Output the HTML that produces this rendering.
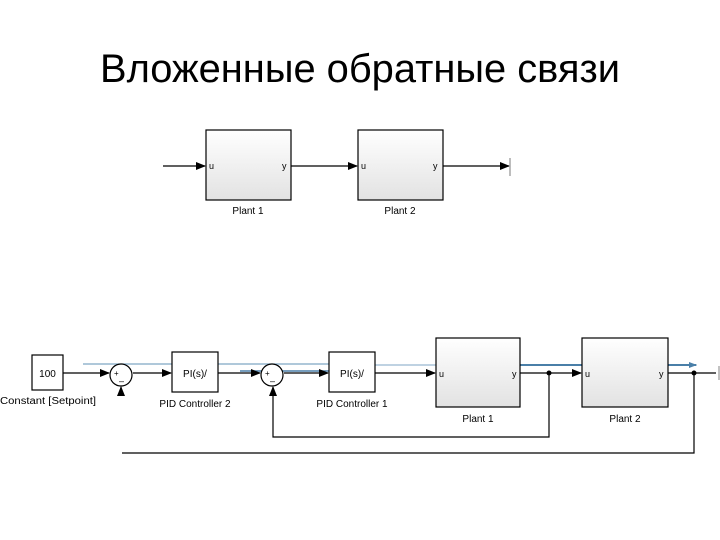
<!DOCTYPE html>
<html><head><meta charset="utf-8"><style>
html,body{margin:0;padding:0;background:#fff;}
svg{display:block;}
</style></head><body>
<svg width="720" height="540" viewBox="0 0 720 540" xmlns="http://www.w3.org/2000/svg" font-family="Liberation Sans, sans-serif">
<defs>
<linearGradient id="g" x1="0" y1="0" x2="0" y2="1">
<stop offset="0" stop-color="#ffffff"/><stop offset="1" stop-color="#e2e2e2"/>
</linearGradient>
<marker id="a" markerWidth="10" markerHeight="8" refX="9" refY="4" orient="auto" markerUnits="userSpaceOnUse">
<path d="M0,0 L10,4 L0,8 Z" fill="#000"/></marker>
<marker id="b" markerWidth="8" markerHeight="6" refX="7" refY="3" orient="auto" markerUnits="userSpaceOnUse">
<path d="M0,0 L8,3 L0,6 Z" fill="#4a7fa8"/></marker>
</defs>
<text x="360" y="82" font-size="40" text-anchor="middle" textLength="520" lengthAdjust="spacingAndGlyphs" fill="#000">Вложенные обратные связи</text>

<!-- top row -->
<g stroke="#000" stroke-width="1.3" fill="none">
<line x1="163" y1="166" x2="205" y2="166" marker-end="url(#a)"/>
<line x1="291" y1="166" x2="357" y2="166" marker-end="url(#a)"/>
<line x1="443" y1="166" x2="509" y2="166" marker-end="url(#a)"/>
<line x1="510" y1="158" x2="510" y2="176" stroke="#999"/>
</g>
<rect x="206" y="130" width="85" height="70" fill="url(#g)" stroke="#000" stroke-width="1.2"/>
<rect x="358" y="130" width="85" height="70" fill="url(#g)" stroke="#000" stroke-width="1.2"/>
<g font-size="9" fill="#000">
<text x="209" y="169">u</text><text x="282" y="169">y</text>
<text x="361" y="169">u</text><text x="433" y="169">y</text>
<text x="248" y="214" text-anchor="middle" font-size="10">Plant 1</text>
<text x="400" y="214" text-anchor="middle" font-size="10">Plant 2</text>
</g>

<!-- bottom row -->
<line x1="83" y1="364" x2="330" y2="364" stroke="#7fa6c4" stroke-width="1.2"/>
<line x1="240" y1="371" x2="330" y2="371" stroke="#4a7fa8" stroke-width="1.5"/>
<line x1="330" y1="365" x2="697" y2="365" stroke="#7fa6c4" stroke-width="1"/>
<line x1="486" y1="365" x2="696" y2="365" stroke="#4a7fa8" stroke-width="2" marker-end="url(#b)"/>

<g stroke="#000" stroke-width="1.2" fill="none">
<line x1="63" y1="373" x2="109" y2="373" marker-end="url(#a)"/>
<line x1="133" y1="373" x2="171" y2="373" marker-end="url(#a)"/>
<line x1="218" y1="373" x2="260" y2="373" marker-end="url(#a)"/>
<line x1="284" y1="373" x2="328" y2="373" marker-end="url(#a)"/>
<line x1="375" y1="373" x2="435" y2="373" marker-end="url(#a)"/>
<line x1="520" y1="373" x2="581" y2="373" marker-end="url(#a)"/>
<line x1="668" y1="373" x2="716" y2="373"/>
<polyline points="549,373 549,437 273,437 273,387" marker-end="url(#a)"/>
<polyline points="694,373 694,453 122,453"/>
<line x1="121" y1="392" x2="121" y2="387" marker-end="url(#a)"/>
<line x1="719" y1="366" x2="719" y2="380" stroke="#999"/>
</g>
<circle cx="549" cy="373" r="2.5" fill="#000"/>
<circle cx="694" cy="373" r="2.5" fill="#000"/>

<rect x="32" y="355" width="31" height="35" fill="#fff" stroke="#000" stroke-width="1.2"/>
<text x="47.5" y="377" font-size="10" text-anchor="middle">100</text>
<text x="48" y="404" font-size="10" text-anchor="middle" textLength="96" lengthAdjust="spacingAndGlyphs">Constant [Setpoint]</text>

<circle cx="121" cy="375" r="11" fill="#fff" stroke="#000" stroke-width="1.2"/>
<text x="114" y="376" font-size="8">+</text><text x="119" y="384" font-size="9">–</text>
<circle cx="272" cy="375" r="11" fill="#fff" stroke="#000" stroke-width="1.2"/>
<text x="265" y="376" font-size="8">+</text><text x="270" y="384" font-size="9">–</text>

<rect x="172" y="352" width="46" height="40" fill="#fff" stroke="#000" stroke-width="1.2"/>
<text x="195" y="377" font-size="10" text-anchor="middle">PI(s)/</text>
<text x="195" y="407" font-size="10" text-anchor="middle">PID Controller 2</text>
<rect x="329" y="352" width="46" height="40" fill="#fff" stroke="#000" stroke-width="1.2"/>
<text x="352" y="377" font-size="10" text-anchor="middle">PI(s)/</text>
<text x="352" y="407" font-size="10" text-anchor="middle">PID Controller 1</text>

<rect x="436" y="338" width="84" height="69" fill="url(#g)" stroke="#000" stroke-width="1.2"/>
<rect x="582" y="338" width="86" height="69" fill="url(#g)" stroke="#000" stroke-width="1.2"/>
<g font-size="9">
<text x="439" y="377">u</text><text x="512" y="377">y</text>
<text x="585" y="377">u</text><text x="659" y="377">y</text>
</g>
<text x="478" y="422" font-size="10" text-anchor="middle">Plant 1</text>
<text x="625" y="422" font-size="10" text-anchor="middle">Plant 2</text>
</svg>
</body></html>
